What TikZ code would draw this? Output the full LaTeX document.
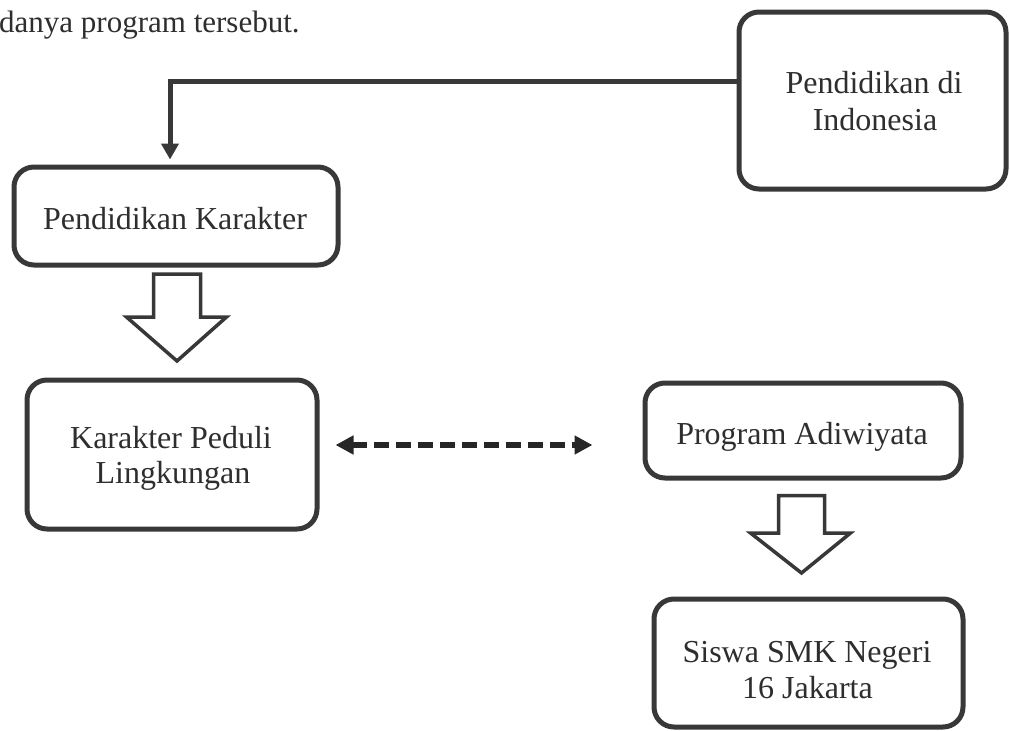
\documentclass[tikz,border=0pt]{standalone}
\usepackage{fontspec}
\setmainfont{Liberation Serif}
\usetikzlibrary{arrows.meta}
\definecolor{boxline}{HTML}{383838}
\definecolor{txt}{HTML}{2E2E2E}
\tikzset{
  x=1pt, y=-1pt,
  box/.style={draw=boxline, line width=5pt, rounded corners=20pt, fill=white,
    inner sep=0pt},
  label/.style={anchor=base, inner sep=0pt, text=txt, font=\fontsize{32}{38}\selectfont},
  blockarrow/.style={draw=boxline, line width=3.5pt, fill=white, line join=miter},
  connector/.style={draw=boxline, line width=5pt, -{Triangle[length=16pt,width=17pt]}},
  dasharrow/.style={draw=black!85, line width=6pt, dash pattern=on 15pt off 7pt,
    {Triangle[length=18pt,width=18pt]}-{Triangle[length=18pt,width=18pt]}},
}
\begin{document}
\begin{tikzpicture}
\useasboundingbox (0,0) rectangle (1010,731);
% running text from the page
\node[label, anchor=base west, font=\fontsize{31}{38}\selectfont] (para) at (-1,32) {danya program tersebut.};
% boxes
\node[box, minimum width=267pt, minimum height=177pt] (pdi) at (872.5,100.5) {};
\node[box, minimum width=324pt, minimum height=98pt] (pk) at (176,216) {};
\node[box, minimum width=290pt, minimum height=149pt] (kpl) at (172,454.5) {};
\node[box, minimum width=316pt, minimum height=95pt] (pa) at (803,430.5) {};
\node[box, minimum width=309pt, minimum height=128pt] (ss) at (808.5,663) {};
% texts
\node[label] (pdi1) at (874,93) {Pendidikan di};
\node[label] (pdi2) at (875,130) {Indonesia};
\node[label] (pk1) at (175,229) {Pendidikan Karakter};
\node[label] (kpl1) at (171,448) {Karakter Peduli};
\node[label] (kpl2) at (173,483) {Lingkungan};
\node[label] (pa1) at (802,444) {Program Adiwiyata};
\node[label] (ss1) at (807,662) {Siswa SMK Negeri};
\node[label] (ss2) at (807.5,698) {16 Jakarta};
% elbow connector
\draw[connector] ([yshift=19.5pt]pdi.west) -| ([xshift=-6pt,yshift=5pt]pk.north);
% block arrows
\draw[blockarrow] (153.5,274) -- (200.5,274) -- (200.5,317) -- (226.5,317) -- (177,361) -- (126.5,317) -- (153.5,317) -- cycle;
\draw[blockarrow] (778.5,495.5) -- (824.5,495.5) -- (824.5,533) -- (850.5,533) -- (801.5,573) -- (750.5,533) -- (778.5,533) -- cycle;
% dashed double arrow
\draw[dasharrow] ([xshift=16pt,yshift=9.5pt]kpl.east) -- ([xshift=-50pt,yshift=-14.5pt]pa.west);
\end{tikzpicture}
\end{document}
